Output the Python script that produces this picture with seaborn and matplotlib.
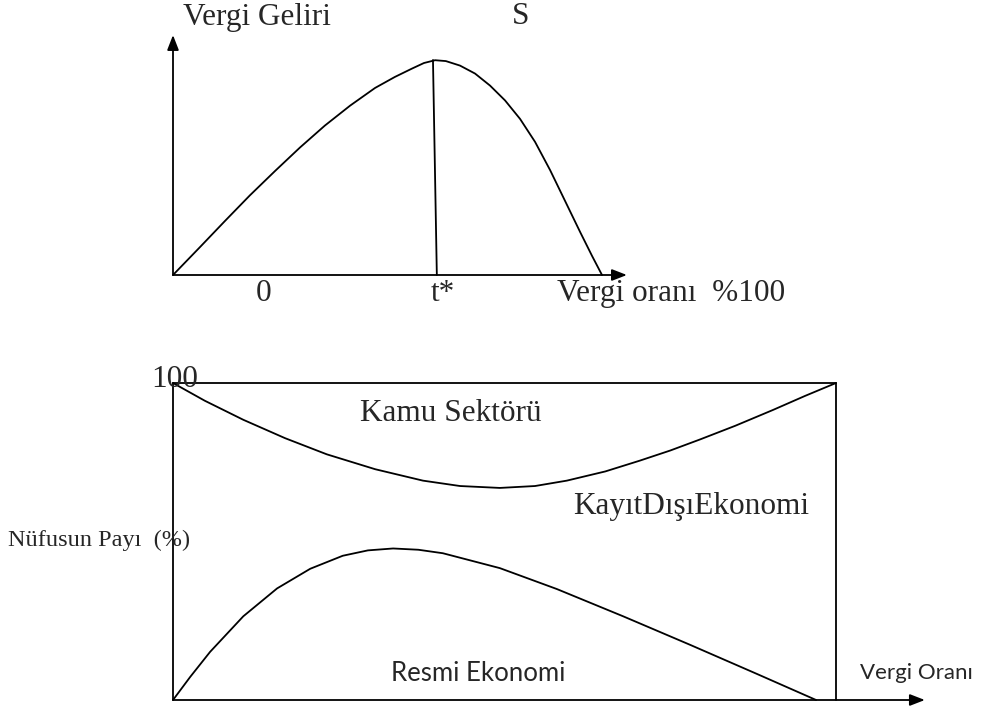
import pandas as pd
import seaborn as sns
import matplotlib.pyplot as plt

# Laffer curve (top): tax rate (%) vs revenue (peak = 100)
laffer_rate = [0, 6.3, 12.1, 17.9, 23.8, 29.6, 35.4, 41.3, 47.1, 51.7, 55.7, 58.5, 61.1,
               63.6, 66.9, 70.4, 73.9, 77.4, 80.9, 84.4, 87.9, 91.4, 94.9, 97.7, 100]
laffer_revenue = [0, 13.0, 25.1, 37.0, 48.4, 59.3, 69.5, 78.8, 87.0, 92.1, 96.0, 98.6, 99.9,
                  99.5, 97.4, 93.7, 88.1, 81.2, 72.6, 61.9, 48.8, 34.4, 20.0, 8.8, 0]
t_star = [60.6, 61.5]
t_star_level = [100, 0]

# population shares (bottom): tax rate (%) vs share of population (%)
public_rate = [0, 4.8, 10.6, 16.9, 23.2, 30.5, 37.7, 43.3, 49.3, 54.6, 59.4, 65.2,
               70.4, 75.0, 79.5, 84.8, 90.5, 95.3, 100]
public_share = [100, 94.4, 88.4, 82.6, 77.5, 72.8, 69.2, 67.5, 66.9, 67.5, 69.2, 72.1,
                75.5, 78.7, 82.2, 86.5, 91.5, 95.9, 100]
formal_rate = [0, 2.6, 5.6, 10.6, 15.7, 20.7, 25.6, 29.4, 33.2, 37.0, 40.7, 49.3,
               57.9, 67.9, 78.0, 88.1, 97.0]
formal_share = [0, 7.3, 15.2, 26.4, 35.2, 41.4, 45.5, 47.2, 47.8, 47.4, 46.3, 41.6,
                35.0, 26.4, 17.4, 8.2, 0]

top = pd.DataFrame({'rate': laffer_rate, 'revenue': laffer_revenue})
public = pd.DataFrame({'rate': public_rate, 'share': public_share})
formal = pd.DataFrame({'rate': formal_rate, 'share': formal_share})

sns.set_style('white')
plt.rcParams['font.family'] = ['Liberation Serif', 'DejaVu Serif']

W, H = 983, 715
fig = plt.figure(figsize=(W / 100, H / 100), dpi=100)

# axes placed in pixel terms of the reference
ax1 = fig.add_axes([173 / W, 1 - 275 / H, (602 - 173) / W, (275 - 60) / H])
ax2 = fig.add_axes([173 / W, 1 - 700 / H, (836 - 173) / W, (700 - 383) / H])

lw = 1.3
line = dict(color='black', lw=lw, clip_on=False)
arrow = dict(arrowstyle='-|>,head_length=0.9,head_width=0.35', color='black', lw=lw,
             shrinkA=0, shrinkB=0)

# ---- top panel ----
sns.lineplot(data=top, x='rate', y='revenue', sort=False, estimator=None, ax=ax1, **line)
ax1.plot(t_star, t_star_level, **line)
ax1.set_xlim(0, 100)
ax1.set_ylim(0, 100)
ax1.axis('off')
ax1.annotate('', xy=(0, 111.6), xytext=(0, 0), arrowprops=arrow, annotation_clip=False)
ax1.annotate('', xy=(105.8, 0), xytext=(0, 0), arrowprops=arrow, annotation_clip=False)

fs = 22.5
ax1.text(2.3, 120, 'Vergi Geliri', fontsize=fs, va='center', clip_on=False)
ax1.text(79, 120, 'S', fontsize=fs, va='center', clip_on=False)
ax1.text(21, -8.5, '0', fontsize=fs, va='center', ha='center', clip_on=False)
ax1.text(62.9, -8.5, 't*', fontsize=fs, va='center', ha='center', clip_on=False)
ax1.text(89.5, -8.5, 'Vergi oranı  %100', fontsize=fs, va='center', clip_on=False)

# ---- bottom panel ----
sns.lineplot(data=public, x='rate', y='share', sort=False, estimator=None, ax=ax2, **line)
sns.lineplot(data=formal, x='rate', y='share', sort=False, estimator=None, ax=ax2, **line)
x0, x1 = public_rate[0], public_rate[-1]
y1 = public_share[0]
ax2.plot([x0, x1], [y1, y1], **line)
ax2.plot([x0, x0], [0, y1], **line)
ax2.plot([x1, x1], [0, y1], **line)
ax2.set_xlim(0, 100)
ax2.set_ylim(0, 100)
ax2.axis('off')
ax2.annotate('', xy=(113.4, 0), xytext=(0, 0), arrowprops=arrow, annotation_clip=False)

ax2.text(0.3, 101, '100', fontsize=fs, va='center', ha='center', clip_on=False)
ax2.text(28.2, 90.5, 'Kamu Sektörü', fontsize=fs, va='center', clip_on=False)
ax2.text(60.3, 61, 'KayıtDışıEkonomi', fontsize=fs, va='center', clip_on=False)
ax2.text(-24.9, 50.5, 'Nüfusun Payı  (%)', fontsize=17.5, va='center', clip_on=False)
ax2.text(46, 8.5, 'Resmi Ekonomi', fontsize=18.5, va='center', ha='center',
         family=['Lato', 'DejaVu Sans'], clip_on=False)
ax2.text(103.6, 8.5, 'Vergi Oranı', fontsize=16, va='center',
         family=['Lato', 'DejaVu Sans'], clip_on=False)

fig.savefig('out.png', dpi=100)
